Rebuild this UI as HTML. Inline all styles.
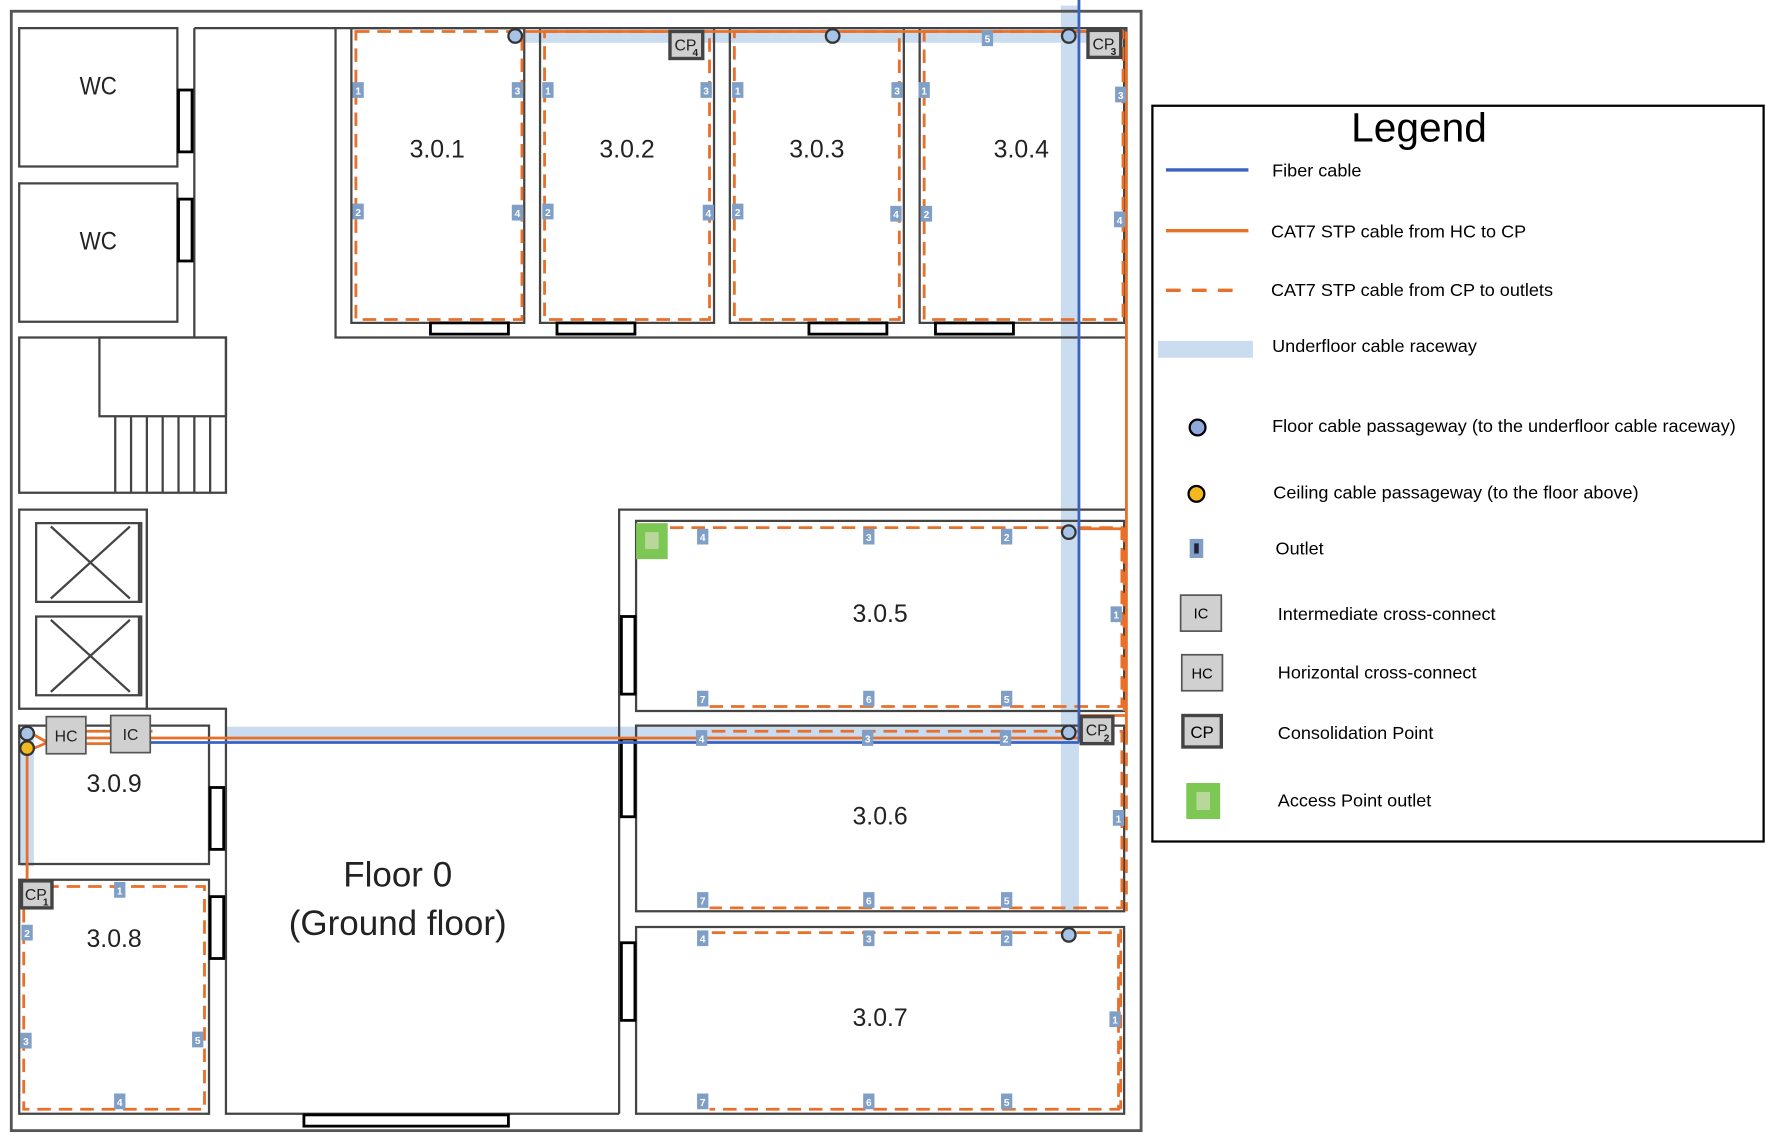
<!DOCTYPE html>
<html><head><meta charset="utf-8"><style>
html,body{margin:0;padding:0;background:#fff;}
svg{display:block;}
text{font-family:"Liberation Sans",sans-serif;}
</style></head><body>
<svg width="1767" height="1134" viewBox="0 0 1564 1008" preserveAspectRatio="none" xmlns="http://www.w3.org/2000/svg">
<rect x="0" y="0" width="1564" height="1008" fill="#fff"/>
<g fill="#c9dcf0">
<rect x="939" y="5" width="16" height="805"/>
<rect x="465" y="27" width="525" height="11"/>
<rect x="200" y="646" width="755" height="14"/>
<rect x="18" y="650" width="12" height="120"/>
</g>
<g fill="none" stroke="#444" stroke-width="2">
<rect x="10" y="10" width="1000" height="995" stroke="#555" stroke-width="2.5"/>
<rect x="17" y="25" width="140" height="123"/>
<rect x="17" y="163" width="140" height="123"/>
<path d="M172 25V300M172 25H297V300H997V25H297M997 300V453H548V990M130 453V630H200V990H548"/>
<rect x="17" y="300" width="183" height="138"/>
<rect x="88" y="300" width="112" height="70"/>
<path d="M102 370V438M116 370V438M130 370V438M144 370V438M158 370V438M172 370V438M186 370V438"/>
<rect x="17" y="453" width="113" height="177"/>
<rect x="32" y="465" width="93" height="70"/><path d="M45 468L115 532M115 468L45 532M123 465V535"/>
<rect x="32" y="548" width="93" height="70"/><path d="M45 551L115 615M115 551L45 615M123 548V618"/>
<rect x="311" y="25" width="153" height="262"/>
<rect x="478" y="25" width="154" height="262"/>
<rect x="646" y="25" width="154" height="262"/>
<rect x="814" y="25" width="181" height="262"/>
<rect x="563" y="463" width="432" height="169"/>
<rect x="563" y="645" width="432" height="165"/>
<rect x="563" y="824" width="432" height="166"/>
<rect x="17" y="645" width="168" height="123"/>
<rect x="17" y="782" width="168" height="208"/>
</g>
<g fill="#fff" stroke="#000" stroke-width="2.5">
<rect x="158" y="80" width="12" height="55"/><rect x="158" y="177" width="12" height="55"/>
<rect x="381" y="287" width="69" height="10"/><rect x="493" y="287" width="69" height="10"/>
<rect x="716" y="287" width="69" height="10"/><rect x="828" y="287" width="69" height="10"/>
<rect x="550" y="548" width="12" height="69"/><rect x="550" y="657" width="12" height="69"/><rect x="550" y="838" width="12" height="69"/>
<rect x="186" y="700" width="12" height="55"/><rect x="186" y="797" width="12" height="55"/>
<rect x="269" y="991" width="181" height="10"/>
</g>
<g fill="none" stroke="#e8702a" stroke-width="2.5" stroke-dasharray="12,7">
<rect x="315" y="28" width="147" height="256"/>
<rect x="482" y="28" width="146" height="256"/>
<rect x="650" y="28" width="146" height="256"/>
<rect x="818" y="28" width="176" height="256"/>
<path d="M593 469H993V628H628"/>
<path d="M630 650H993V807H628"/>
<path d="M630 829H990V986H628"/>
<rect x="21" y="788" width="160" height="198"/>
<path d="M995 470V632M997 650V810M992 826V986"/>
</g>
<g fill="none" stroke="#e8702a" stroke-width="2.5">
<path d="M70 656H960M75 650H135M75 661H130M24 655V785M28 652L42 660L28 666"/>
<path d="M465 28H960M997 28V660M955 470H997M955 636H997"/>
</g>
<g fill="none" stroke="#3b63c0" stroke-width="2.5">
<path d="M955 0V660M130 660H955"/>
</g>
<g stroke="#333" stroke-width="2">
<circle cx="456" cy="32" r="6" fill="#a7c3e6"/>
<circle cx="737" cy="32" r="6" fill="#a7c3e6"/>
<circle cx="946" cy="32" r="6" fill="#a7c3e6"/>
<circle cx="946" cy="473" r="6" fill="#a7c3e6"/>
<circle cx="946" cy="651" r="6" fill="#a7c3e6"/>
<circle cx="946" cy="831" r="6" fill="#a7c3e6"/>
<circle cx="24" cy="652" r="6" fill="#a7c3e6"/>
<circle cx="24" cy="665" r="6" fill="#f3b81d"/>
</g>
<g font-size="14" fill="#222">
<rect x="41" y="637" width="35" height="33" fill="#d0d0d0" stroke="#555" stroke-width="1.5"/><text x="58.5" y="659" text-anchor="middle">HC</text>
<rect x="98" y="636" width="35" height="33" fill="#d0d0d0" stroke="#555" stroke-width="1.5"/><text x="115.5" y="658" text-anchor="middle">IC</text>
</g>
<g font-size="14" fill="#222" stroke-width="3">
<rect x="19" y="783" width="27" height="24" fill="#d0d0d0" stroke="#444"/><text x="22" y="800">CP</text><text x="38" y="805" font-size="9" font-weight="bold">1</text>
<rect x="957" y="637" width="28" height="24" fill="#d0d0d0" stroke="#444"/><text x="961" y="654">CP</text><text x="977" y="659" font-size="9" font-weight="bold">2</text>
<rect x="963" y="27" width="29" height="24" fill="#d0d0d0" stroke="#444"/><text x="967" y="44">CP</text><text x="983" y="49" font-size="9" font-weight="bold">3</text>
<rect x="593" y="28" width="29" height="24" fill="#d0d0d0" stroke="#444"/><text x="597" y="45">CP</text><text x="613" y="50" font-size="9" font-weight="bold">4</text>
</g>
<rect x="563" y="465" width="28" height="32" fill="#7dc754"/><rect x="571" y="473" width="12" height="15" fill="#b9d79a"/>
<g font-size="9" font-weight="bold" text-anchor="middle">
<rect x="312" y="73" width="10" height="14" fill="#7f9fc6"/><text x="317" y="84" fill="#fff">1</text>
<rect x="312" y="181" width="10" height="14" fill="#7f9fc6"/><text x="317" y="192" fill="#fff">2</text>
<rect x="453" y="73" width="10" height="14" fill="#7f9fc6"/><text x="458" y="84" fill="#fff">3</text>
<rect x="453" y="182" width="10" height="14" fill="#7f9fc6"/><text x="458" y="193" fill="#fff">4</text>
<rect x="480" y="73" width="10" height="14" fill="#7f9fc6"/><text x="485" y="84" fill="#fff">1</text>
<rect x="480" y="181" width="10" height="14" fill="#7f9fc6"/><text x="485" y="192" fill="#fff">2</text>
<rect x="620" y="73" width="10" height="14" fill="#7f9fc6"/><text x="625" y="84" fill="#fff">3</text>
<rect x="622" y="182" width="10" height="14" fill="#7f9fc6"/><text x="627" y="193" fill="#fff">4</text>
<rect x="648" y="73" width="10" height="14" fill="#7f9fc6"/><text x="653" y="84" fill="#fff">1</text>
<rect x="648" y="181" width="10" height="14" fill="#7f9fc6"/><text x="653" y="192" fill="#fff">2</text>
<rect x="789" y="73" width="10" height="14" fill="#7f9fc6"/><text x="794" y="84" fill="#fff">3</text>
<rect x="788" y="183" width="10" height="14" fill="#7f9fc6"/><text x="793" y="194" fill="#fff">4</text>
<rect x="813" y="73" width="10" height="14" fill="#7f9fc6"/><text x="818" y="84" fill="#fff">1</text>
<rect x="815" y="183" width="10" height="14" fill="#7f9fc6"/><text x="820" y="194" fill="#fff">2</text>
<rect x="987" y="77" width="10" height="14" fill="#7f9fc6"/><text x="992" y="88" fill="#fff">3</text>
<rect x="986" y="188" width="10" height="14" fill="#7f9fc6"/><text x="991" y="199" fill="#fff">4</text>
<rect x="869" y="27" width="10" height="14" fill="#7f9fc6"/><text x="874" y="38" fill="#fff">5</text>
<rect x="617" y="470" width="10" height="14" fill="#7f9fc6"/><text x="622" y="481" fill="#fff">4</text>
<rect x="764" y="470" width="10" height="14" fill="#7f9fc6"/><text x="769" y="481" fill="#fff">3</text>
<rect x="886" y="470" width="10" height="14" fill="#7f9fc6"/><text x="891" y="481" fill="#fff">2</text>
<rect x="983" y="539" width="10" height="14" fill="#7f9fc6"/><text x="988" y="550" fill="#fff">1</text>
<rect x="617" y="614" width="10" height="14" fill="#7f9fc6"/><text x="622" y="625" fill="#fff">7</text>
<rect x="764" y="614" width="10" height="14" fill="#7f9fc6"/><text x="769" y="625" fill="#fff">6</text>
<rect x="886" y="614" width="10" height="14" fill="#7f9fc6"/><text x="891" y="625" fill="#fff">5</text>
<rect x="616" y="649" width="10" height="14" fill="#7f9fc6"/><text x="621" y="660" fill="#fff">4</text>
<rect x="763" y="649" width="10" height="14" fill="#7f9fc6"/><text x="768" y="660" fill="#fff">3</text>
<rect x="885" y="649" width="10" height="14" fill="#7f9fc6"/><text x="890" y="660" fill="#fff">2</text>
<rect x="985" y="720" width="10" height="14" fill="#7f9fc6"/><text x="990" y="731" fill="#fff">1</text>
<rect x="617" y="793" width="10" height="14" fill="#7f9fc6"/><text x="622" y="804" fill="#fff">7</text>
<rect x="764" y="793" width="10" height="14" fill="#7f9fc6"/><text x="769" y="804" fill="#fff">6</text>
<rect x="886" y="793" width="10" height="14" fill="#7f9fc6"/><text x="891" y="804" fill="#fff">5</text>
<rect x="617" y="827" width="10" height="14" fill="#7f9fc6"/><text x="622" y="838" fill="#fff">4</text>
<rect x="764" y="827" width="10" height="14" fill="#7f9fc6"/><text x="769" y="838" fill="#fff">3</text>
<rect x="886" y="827" width="10" height="14" fill="#7f9fc6"/><text x="891" y="838" fill="#fff">2</text>
<rect x="982" y="899" width="10" height="14" fill="#7f9fc6"/><text x="987" y="910" fill="#fff">1</text>
<rect x="617" y="972" width="10" height="14" fill="#7f9fc6"/><text x="622" y="983" fill="#fff">7</text>
<rect x="764" y="972" width="10" height="14" fill="#7f9fc6"/><text x="769" y="983" fill="#fff">6</text>
<rect x="886" y="972" width="10" height="14" fill="#7f9fc6"/><text x="891" y="983" fill="#fff">5</text>
<rect x="101" y="784" width="10" height="14" fill="#7f9fc6"/><text x="106" y="795" fill="#fff">1</text>
<rect x="19" y="822" width="10" height="14" fill="#7f9fc6"/><text x="24" y="833" fill="#fff">2</text>
<rect x="18" y="918" width="10" height="14" fill="#7f9fc6"/><text x="23" y="929" fill="#fff">3</text>
<rect x="101" y="972" width="10" height="14" fill="#7f9fc6"/><text x="106" y="983" fill="#fff">4</text>
<rect x="170" y="917" width="10" height="14" fill="#7f9fc6"/><text x="175" y="928" fill="#fff">5</text>
</g>
<g font-size="22" fill="#222" text-anchor="middle">
<text x="87" y="84" transform="translate(87 0) scale(0.9 1) translate(-87 0)">WC</text><text x="87" y="222" transform="translate(87 0) scale(0.9 1) translate(-87 0)">WC</text>
<text x="387" y="140">3.0.1</text><text x="555" y="140">3.0.2</text><text x="723" y="140">3.0.3</text><text x="904" y="140">3.0.4</text>
<text x="779" y="553">3.0.5</text><text x="779" y="733">3.0.6</text><text x="779" y="912">3.0.7</text>
<text x="101" y="704">3.0.9</text><text x="101" y="842">3.0.8</text>
<text x="352" y="788" font-size="31">Floor 0</text><text x="352" y="831" font-size="31">(Ground floor)</text>
</g>
<rect x="1020" y="94" width="541" height="654" fill="#fff" stroke="#000" stroke-width="2"/>
<text x="1256" y="126" font-size="36" text-anchor="middle" fill="#000">Legend</text>
<g font-size="16" fill="#000">
<line x1="1032" y1="151" x2="1105" y2="151" stroke="#3b63c0" stroke-width="3"/><text x="1126" y="157">Fiber cable</text>
<line x1="1032" y1="205" x2="1105" y2="205" stroke="#e8702a" stroke-width="3"/><text x="1125" y="211">CAT7 STP cable from HC to CP</text>
<line x1="1032" y1="258" x2="1100" y2="258" stroke="#e8702a" stroke-width="3" stroke-dasharray="13,10"/><text x="1125" y="263">CAT7 STP cable from CP to outlets</text>
<rect x="1025" y="303" width="84" height="15" fill="#c9dcf0"/><text x="1126" y="313">Underfloor cable raceway</text>
<circle cx="1060" cy="380" r="7" fill="#8fa9dc" stroke="#000" stroke-width="2"/><text x="1126" y="384">Floor cable passageway (to the underfloor cable raceway)</text>
<circle cx="1059" cy="439" r="7" fill="#f3b81d" stroke="#000" stroke-width="2"/><text x="1127" y="443">Ceiling cable passageway (to the floor above)</text>
<rect x="1053" y="479" width="12" height="17" fill="#7f9fc6"/><rect x="1057" y="483" width="4" height="9" fill="#223"/><text x="1129" y="493">Outlet</text>
<rect x="1045" y="529" width="36" height="32" fill="#d0d0d0" stroke="#555" stroke-width="1.5"/><text x="1063" y="550" font-size="13" text-anchor="middle">IC</text><text x="1131" y="551">Intermediate cross-connect</text>
<rect x="1046" y="582" width="36" height="32" fill="#d0d0d0" stroke="#555" stroke-width="1.5"/><text x="1064" y="603" font-size="13" text-anchor="middle">HC</text><text x="1131" y="603">Horizontal cross-connect</text>
<rect x="1047" y="636" width="34" height="28" fill="#d0d0d0" stroke="#444" stroke-width="3"/><text x="1064" y="656" font-size="15" text-anchor="middle">CP</text><text x="1131" y="657">Consolidation Point</text>
<rect x="1050" y="696" width="30" height="32" fill="#7dc754"/><rect x="1059" y="704" width="12" height="16" fill="#b9d79a"/><text x="1131" y="717">Access Point outlet</text>
</g>
</svg>
</body></html>
